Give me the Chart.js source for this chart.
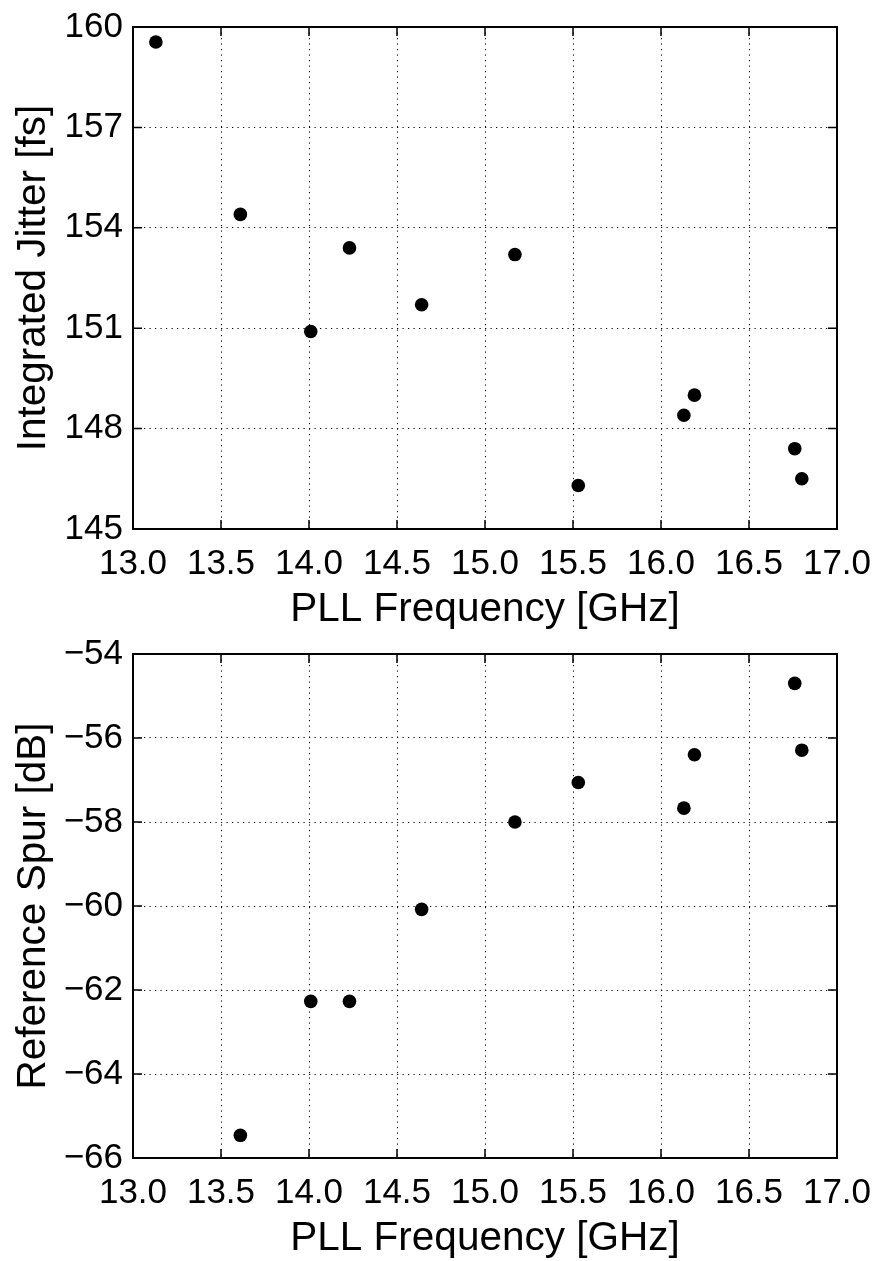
<!DOCTYPE html>
<html>
<head>
<meta charset="utf-8">
<script src="https://cdn.jsdelivr.net/npm/chart.js@4/dist/chart.umd.min.js"></script>
<style>
  html, body { margin: 0; padding: 0; background: #fff; }
  canvas { display: block; }
</style>
</head>
<body>
<canvas id="jitterChart" width="876" height="630"></canvas>
<canvas id="spurChart" width="876" height="631"></canvas>
<script>
// PLL frequency of each measurement [GHz]
const freqGHz = [13.13, 13.61, 14.01, 14.23, 14.64, 15.17, 15.53, 16.13, 16.19, 16.76, 16.80];
// integrated jitter [fs]
const jitterFs = [159.55, 154.4, 150.9, 153.4, 151.7, 153.2, 146.3, 148.4, 149.0, 147.4, 146.5];
// reference spur [dB] (no value for the first point)
const spurDb = [null, -65.46, -62.27, -62.27, -60.08, -58.0, -57.06, -57.67, -56.4, -54.7, -56.29];

const xTicks = [13.0, 13.5, 14.0, 14.5, 15.0, 15.5, 16.0, 16.5, 17.0];
const jitterTicks = [145, 148, 151, 154, 157, 160];
const spurTicks = [-66, -64, -62, -60, -58, -56, -54];

const FONT = "'Liberation Sans', Arial, Helvetica, sans-serif";

function points(xs, ys) {
    const out = [];
    xs.forEach((x, i) => {
        if (ys[i] !== null) out.push({ x, y: ys[i] });
    });
    return out;
}

// box around the plot area plus inward tick marks on all four sides
const frame = {
    id: "frame",
    afterDraw(chart) {
        const { ctx, chartArea: a, scales } = chart;
        const len = 9;
        ctx.save();
        ctx.strokeStyle = "#000";
        ctx.lineWidth = 1.5;
        ctx.beginPath();
        scales.x.ticks.forEach(t => {
            const px = scales.x.getPixelForValue(t.value);
            ctx.moveTo(px, a.bottom); ctx.lineTo(px, a.bottom - len);
            ctx.moveTo(px, a.top); ctx.lineTo(px, a.top + len);
        });
        scales.y.ticks.forEach(t => {
            const py = scales.y.getPixelForValue(t.value);
            ctx.moveTo(a.left, py); ctx.lineTo(a.left + len, py);
            ctx.moveTo(a.right, py); ctx.lineTo(a.right - len, py);
        });
        ctx.stroke();
        ctx.lineWidth = 2;
        ctx.strokeRect(a.left, a.top, a.right - a.left, a.bottom - a.top);
        ctx.restore();
    }
};

function makeChart(id, ys, yTicks, yTitle, topPad, xHeight, titlePadBottom) {
    const ctx = document.getElementById(id).getContext("2d");
    return new Chart(ctx, {
        type: "scatter",
        data: {
            datasets: [{
                data: points(freqGHz, ys),
                backgroundColor: "#000",
                borderWidth: 0,
                pointRadius: 6.8,
                pointHoverRadius: 6.8,
            }],
        },
        options: {
            responsive: false,
            animation: false,
            devicePixelRatio: 1,
            layout: { padding: { top: topPad, right: 39, bottom: 0, left: 0 } },
            plugins: { legend: { display: false }, tooltip: { enabled: false } },
            scales: {
                x: {
                    type: "linear",
                    min: xTicks[0],
                    max: xTicks[xTicks.length - 1],
                    afterBuildTicks: s => { s.ticks = xTicks.map(v => ({ value: v })); },
                    afterFit: s => {
                        s.height = xHeight;
                        s.paddingLeft = 0;
                        s.paddingRight = 0;
                    },
                    grid: { color: "#000", lineWidth: 1, drawTicks: false },
                    border: { display: false, dash: [1.2, 4.3] },
                    ticks: {
                        color: "#000",
                        padding: 14,
                        maxRotation: 0,
                        font: { family: FONT, size: 35, lineHeight: 1.2 },
                        callback: v => Number(v).toFixed(1),
                    },
                    title: {
                        display: true,
                        text: "PLL Frequency [GHz]",
                        color: "#000",
                        padding: { top: 0, bottom: titlePadBottom },
                        font: { family: FONT, size: 40.5, lineHeight: 1.0 },
                    },
                },
                y: {
                    type: "linear",
                    min: yTicks[0],
                    max: yTicks[yTicks.length - 1],
                    afterBuildTicks: s => { s.ticks = yTicks.map(v => ({ value: v })); },
                    afterFit: s => {
                        s.width = 133;
                        s.paddingTop = 0;
                        s.paddingBottom = 0;
                    },
                    grid: { color: "#000", lineWidth: 1, drawTicks: false },
                    border: { display: false, dash: [1.2, 4.3] },
                    ticks: {
                        color: "#000",
                        padding: 10,
                        font: { family: FONT, size: 35, lineHeight: 1.2 },
                        callback: v => String(v).replace("-", "\u2212"),
                    },
                    title: {
                        display: true,
                        text: yTitle,
                        color: "#000",
                        padding: { top: 14, bottom: 0 },
                        font: { family: FONT, size: 40.5, lineHeight: 1.0 },
                    },
                },
            },
        },
        plugins: [frame],
    });
}

makeChart("jitterChart", jitterFs, jitterTicks, "Integrated Jitter [fs]", 27, 101, 0);
makeChart("spurChart", spurDb, spurTicks, "Reference Spur [dB]", 24, 103, 2);
</script>
</body>
</html>
